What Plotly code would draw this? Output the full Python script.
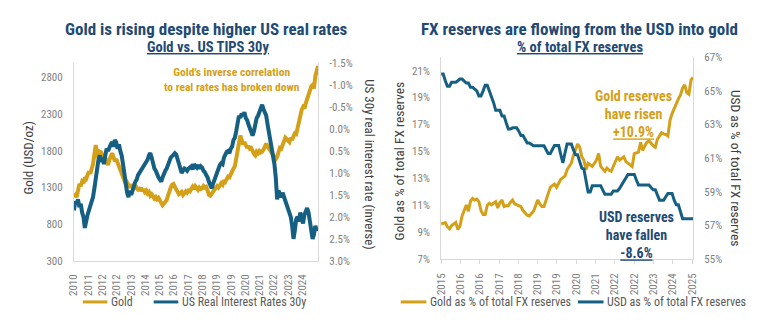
import numpy as np
import plotly.graph_objects as go

# ---------------- Left panel: gold price vs. US 30y real rate (monthly, Jan 2010 - Dec 2024)
gold_usd = [
    1180, 1200, 1170, 1250, 1350, 1320, 1380, 1360, 1440, 1420, 1470, 1520,
    1490, 1540, 1620, 1750, 1880, 1760, 1700, 1790, 1780, 1720, 1760, 1700,
    1640, 1610, 1680, 1740, 1770, 1720, 1660, 1690, 1640, 1600, 1570, 1520,
    1470, 1410, 1350, 1370, 1320, 1300, 1340, 1310, 1280, 1330, 1300, 1270,
    1270, 1300, 1250, 1280, 1240, 1260, 1220, 1240, 1190, 1210, 1180, 1150,
    1170, 1140, 1160, 1120, 1090, 1060, 1080, 1100, 1130, 1190, 1260, 1300,
    1340, 1350, 1310, 1280, 1240, 1210, 1220, 1240, 1200, 1230, 1250, 1230,
    1260, 1250, 1290, 1310, 1280, 1320, 1300, 1270, 1300, 1280, 1290, 1320,
    1300, 1310, 1260, 1200, 1190, 1220, 1250, 1280, 1290, 1320, 1300, 1340,
    1360, 1340, 1400, 1380, 1420, 1450, 1440, 1490, 1520, 1560, 1590, 1700,
    1760, 1880, 2010, 1950, 1890, 1920, 1880, 1840, 1870, 1830, 1840, 1790,
    1760, 1740, 1790, 1770, 1800, 1780, 1790, 1820, 1870, 1900, 1860, 1830,
    1790, 1770, 1730, 1700, 1690, 1720, 1780, 1840, 1830, 1870, 1920, 1980,
    1960, 1930, 1920, 1980, 1950, 2000, 2040, 2030, 2120, 2200, 2320, 2360,
    2400, 2380, 2450, 2520, 2540, 2620, 2680, 2700, 2650, 2820, 2880, 2960,
]
real_rate_30y = [
    1.85, 1.65, 1.70, 1.60, 1.78, 1.70, 1.90, 2.00, 2.25, 2.05, 1.95, 1.85,
    1.75, 1.70, 1.55, 1.35, 1.10, 0.85, 0.70, 0.60, 0.75, 0.65, 0.80, 0.60,
    0.45, 0.50, 0.38, 0.35, 0.30, 0.40, 0.25, 0.30, 0.45, 0.35, 0.50, 0.60,
    0.80, 1.00, 1.30, 1.45, 1.55, 1.40, 1.50, 1.35, 1.30, 1.20, 1.15, 1.05,
    1.00, 0.95, 0.90, 0.85, 0.80, 0.75, 0.70, 0.60, 0.55, 0.65, 0.80, 0.90,
    0.95, 1.05, 1.10, 1.15, 1.20, 1.10, 1.00, 0.95, 0.90, 0.80, 0.75, 0.65,
    0.62, 0.57, 0.55, 0.58, 0.70, 0.78, 0.95, 1.00, 0.95, 0.90, 0.92, 0.95,
    0.90, 0.88, 0.85, 0.92, 0.80, 0.85, 0.88, 0.82, 0.90, 0.85, 0.88, 0.95,
    0.98, 1.05, 1.10, 1.20, 1.30, 1.35, 1.25, 1.15, 1.08, 1.00, 0.90, 0.82,
    0.78, 0.80, 0.65, 0.55, 0.52, 0.50, 0.55, 0.45, 0.40, 0.25, 0.20, 0.05,
    -0.20, -0.30, -0.25, -0.35, -0.30, -0.38, -0.25, -0.20, -0.10, 0.00, 0.10, 0.15,
    0.05, -0.15, -0.25, -0.30, -0.40, -0.50, -0.55, -0.45, -0.35, -0.30, -0.10, 0.10,
    0.25, 0.45, 0.55, 0.80, 1.10, 1.60, 1.40, 1.50, 1.55, 1.45, 1.55, 1.65,
    1.75, 1.85, 1.90, 2.00, 2.20, 2.50, 2.30, 2.05, 2.00, 2.10, 1.90, 2.05,
    2.15, 1.95, 1.85, 1.80, 1.90, 2.10, 2.25, 2.50, 2.40, 2.20, 2.30, 2.25,
]
left_year_labels = ["2010", "2011", "2012", "2012", "2013", "2014", "2015", "2016", "2017",
                    "2018", "2019", "2019", "2020", "2021", "2022", "2023", "2024"]
gold_ticks = [300, 800, 1300, 1800, 2300, 2800]
rate_ticks = [-1.5, -1.0, -0.5, 0.0, 0.5, 1.0, 1.5, 2.0, 2.5, 3.0]

# ---------------- Right panel: share of FX reserves (monthly, Jan 2015 - Jan 2025)
gold_share = [
    9.60, 9.65, 9.71, 9.40, 9.24, 9.48, 9.60, 9.71, 9.19, 9.45,
    10.20, 10.66, 11.02, 10.55, 11.30, 11.50, 11.38, 11.45, 11.26, 10.60,
    10.31, 10.31, 11.00, 11.14, 11.02, 11.15, 11.26, 10.79, 11.20, 11.38,
    10.90, 10.95, 10.95, 11.20, 11.38, 11.10, 11.02, 10.95, 10.90, 10.60,
    10.43, 10.25, 10.19, 10.35, 10.55, 10.95, 11.38, 11.10, 10.90, 10.90,
    11.40, 11.98, 12.33, 12.45, 12.57, 12.33, 12.60, 12.93, 13.05, 13.17,
    13.64, 13.90, 14.12, 14.70, 15.20, 15.55, 15.31, 14.60, 14.36, 13.64,
    14.12, 14.00, 13.88, 14.10, 14.36, 14.84, 13.88, 13.70, 13.52, 13.76,
    13.60, 13.52, 13.88, 14.20, 14.60, 14.36, 14.45, 14.60, 14.24, 14.10,
    14.00, 13.88, 14.84, 14.90, 14.95, 15.67, 15.07, 15.40, 15.67, 15.79,
    15.60, 15.43, 15.31, 15.90, 16.15, 16.38, 16.30, 16.26, 16.14, 17.30,
    17.81, 18.17, 18.64, 18.90, 19.20, 19.71, 19.95, 19.36, 19.24, 20.31,
    20.50,
]
usd_share = [
    66.00, 66.00, 65.60, 65.27, 65.27, 65.51, 65.51, 65.51, 65.60, 65.70,
    65.70, 65.55, 65.46, 65.46, 65.21, 65.21, 65.13, 65.00, 64.70, 64.70,
    65.00, 65.33, 65.33, 65.00, 64.70, 64.30, 63.84, 63.84, 63.84, 63.50,
    63.50, 63.10, 62.73, 62.73, 62.80, 62.80, 62.80, 62.60, 62.35, 62.35,
    62.10, 61.90, 61.90, 61.80, 61.74, 61.74, 61.74, 61.74, 61.74, 61.74,
    61.50, 61.27, 61.27, 61.50, 61.75, 61.75, 61.75, 61.20, 60.72, 61.30,
    61.84, 61.84, 61.84, 61.50, 61.20, 61.20, 60.80, 60.40, 60.35, 59.70,
    58.98, 58.98, 59.36, 59.36, 59.36, 59.36, 59.36, 59.10, 58.85, 58.85,
    58.85, 58.85, 59.05, 59.05, 59.05, 59.20, 59.40, 59.60, 59.80, 60.03,
    60.03, 60.03, 60.03, 59.70, 59.40, 59.40, 59.40, 59.40, 59.40, 59.40,
    59.25, 59.12, 59.12, 58.80, 58.50, 58.50, 58.50, 58.70, 58.89, 58.89,
    58.89, 58.50, 58.22, 58.22, 57.80, 57.40, 57.40, 57.40, 57.40, 57.40,
    57.40,
]
right_year_labels = ["2015", "2016", "2016", "2017", "2018", "2019", "2019", "2020",
                     "2021", "2022", "2022", "2023", "2024", "2025"]
gold_share_ticks = [7, 9, 11, 13, 15, 17, 19, 21]
usd_share_ticks = [55, 57, 59, 61, 63, 65, 67]

# ---------------- Styling
GOLD = "#D4A017"
BLUE = "#156082"
NAVY = "#1E4A74"
TICK_GREY = "#7F7F7F"
AXIS_GREY = "#D9D9D9"
TEXT_DARK = "#404040"
FONT = "Liberation Sans Narrow, Arial Narrow, Roboto Condensed, Roboto, sans-serif"
W, H = 768, 332


def px(x):
    return x / W


def py(y):
    return 1 - y / H


fig = go.Figure()

left_x = np.arange(len(gold_usd))
fig.add_trace(go.Scatter(x=left_x, y=gold_usd, mode="lines", name="Gold",
                         line=dict(color=GOLD, width=4), xaxis="x", yaxis="y",
                         showlegend=False))
fig.add_trace(go.Scatter(x=left_x, y=real_rate_30y, mode="lines",
                         name="US Real Interest Rates 30y",
                         line=dict(color=BLUE, width=4), xaxis="x", yaxis="y2",
                         showlegend=False))

right_x = np.arange(len(usd_share))
fig.add_trace(go.Scatter(x=right_x, y=usd_share, mode="lines",
                         name="USD as % of total FX reserves",
                         line=dict(color=BLUE, width=3), xaxis="x2", yaxis="y4",
                         showlegend=False))
fig.add_trace(go.Scatter(x=right_x, y=gold_share, mode="lines",
                         name="Gold as % of total FX reserves",
                         line=dict(color=GOLD, width=3), xaxis="x2", yaxis="y3",
                         showlegend=False))

tickfont = dict(family=FONT, size=11, color=TICK_GREY)
common_axis = dict(showgrid=False, zeroline=False, showline=True, linecolor=AXIS_GREY,
                   linewidth=1, tickfont=tickfont)

left_tick_pos = np.linspace(0, 167.5, len(left_year_labels))
right_tick_pos = np.linspace(0, 119.5, len(right_year_labels))

fig.update_layout(
    width=W, height=H, margin=dict(l=0, r=0, t=0, b=0),
    paper_bgcolor="white", plot_bgcolor="white",
    font=dict(family=FONT, color=TEXT_DARK),
    xaxis=dict(domain=[px(69), px(317)], range=[0, len(gold_usd) - 1], anchor="y",
               tickmode="array", tickvals=left_tick_pos, ticktext=left_year_labels,
               tickangle=-90, ticks="", ticklabelstandoff=8, **common_axis),
    yaxis=dict(domain=[py(265.3), py(59.3)], range=[300, 3000], anchor="x",
               tickmode="array", tickvals=gold_ticks, ticks="", ticklabelstandoff=8,
               **common_axis),
    yaxis2=dict(overlaying="y", side="right", anchor="x", range=[3.0, -1.5],
                tickmode="array", tickvals=rate_ticks,
                ticktext=[f"{v:.1f}%" for v in rate_ticks], ticks="",
                ticklabelstandoff=8, **common_axis),
    xaxis2=dict(domain=[px(442), px(698)], range=[0, len(usd_share) - 1], anchor="y3",
                tickmode="array", tickvals=right_tick_pos, ticktext=right_year_labels,
                tickangle=-90, ticks="outside", ticklen=4, tickcolor=AXIS_GREY,
                ticklabelstandoff=5, **common_axis),
    yaxis3=dict(domain=[py(263.3), py(53.3)], range=[7, 22], anchor="x2",
                tickmode="array", tickvals=gold_share_ticks,
                ticktext=[f"{v}%" for v in gold_share_ticks], ticks="",
                ticklabelstandoff=8, **common_axis),
    yaxis4=dict(overlaying="y3", side="right", anchor="x2", range=[55, 67],
                tickmode="array", tickvals=usd_share_ticks,
                ticktext=[f"{v}%" for v in usd_share_ticks], ticks="",
                ticklabelstandoff=8, **common_axis),
)

annotations = []


def text(x, y, s, size, color, bold=False, anchor="center", angle=0):
    if bold:
        s = f"<b>{s}</b>"
    annotations.append(dict(x=px(x), y=py(y), xref="paper", yref="paper", text=s,
                            showarrow=False, xanchor=anchor, yanchor="middle",
                            textangle=angle, font=dict(family=FONT, size=size, color=color)))


# titles
text(204, 24, "Gold is rising despite higher US real rates", 17, NAVY, bold=True)
text(205, 43, "<u>Gold vs. US TIPS 30y</u>", 14.5, NAVY, bold=True)
text(583, 24, "FX reserves are flowing from the USD into gold", 17, NAVY, bold=True)
text(583, 43, "<u>% of total FX reserves</u>", 14.5, NAVY, bold=True)

# axis titles
text(23, 158, "Gold (USD/oz)", 13, TEXT_DARK, angle=-90)
text(369, 165, "US 30y real interest rate (inverse)", 13, TEXT_DARK, angle=90)
text(399, 161, "Gold as % of total FX reserves", 13.5, TEXT_DARK, angle=-90)
text(741, 169, "USD as % of total FX reserves", 13.5, TEXT_DARK, angle=90)

# call-outs
text(301, 77, "Gold's inverse correlation<br>to real rates has broken down", 11.5, GOLD,
     bold=True, anchor="right")
gold_change = gold_share[-1] - gold_share[0]
usd_change = usd_share[-1] - usd_share[0]
text(637, 112, f"Gold reserves<br>have risen<br><u>{gold_change:+.1f}%</u>", 14, GOLD, bold=True)
text(640, 238, f"USD reserves<br>have fallen<br><u>{usd_change:+.1f}%</u>", 14, NAVY, bold=True)

# legend rows
shapes = []
legend_items = [
    (78, 103, GOLD, "Gold"),
    (150, 175, BLUE, "US Real Interest Rates 30y"),
    (401, 427, GOLD, "Gold as % of total FX reserves"),
    (581, 607, BLUE, "USD as % of total FX reserves"),
]
for x0, x1, color, label in legend_items:
    shapes.append(dict(type="line", xref="paper", yref="paper", x0=px(x0), x1=px(x1),
                       y0=py(308), y1=py(308), line=dict(color=color, width=3)))
    text(x1 + 2, 308, label, 12, "#595959", anchor="left")

fig.update_layout(annotations=annotations, shapes=shapes)
fig.write_html("out.html")
